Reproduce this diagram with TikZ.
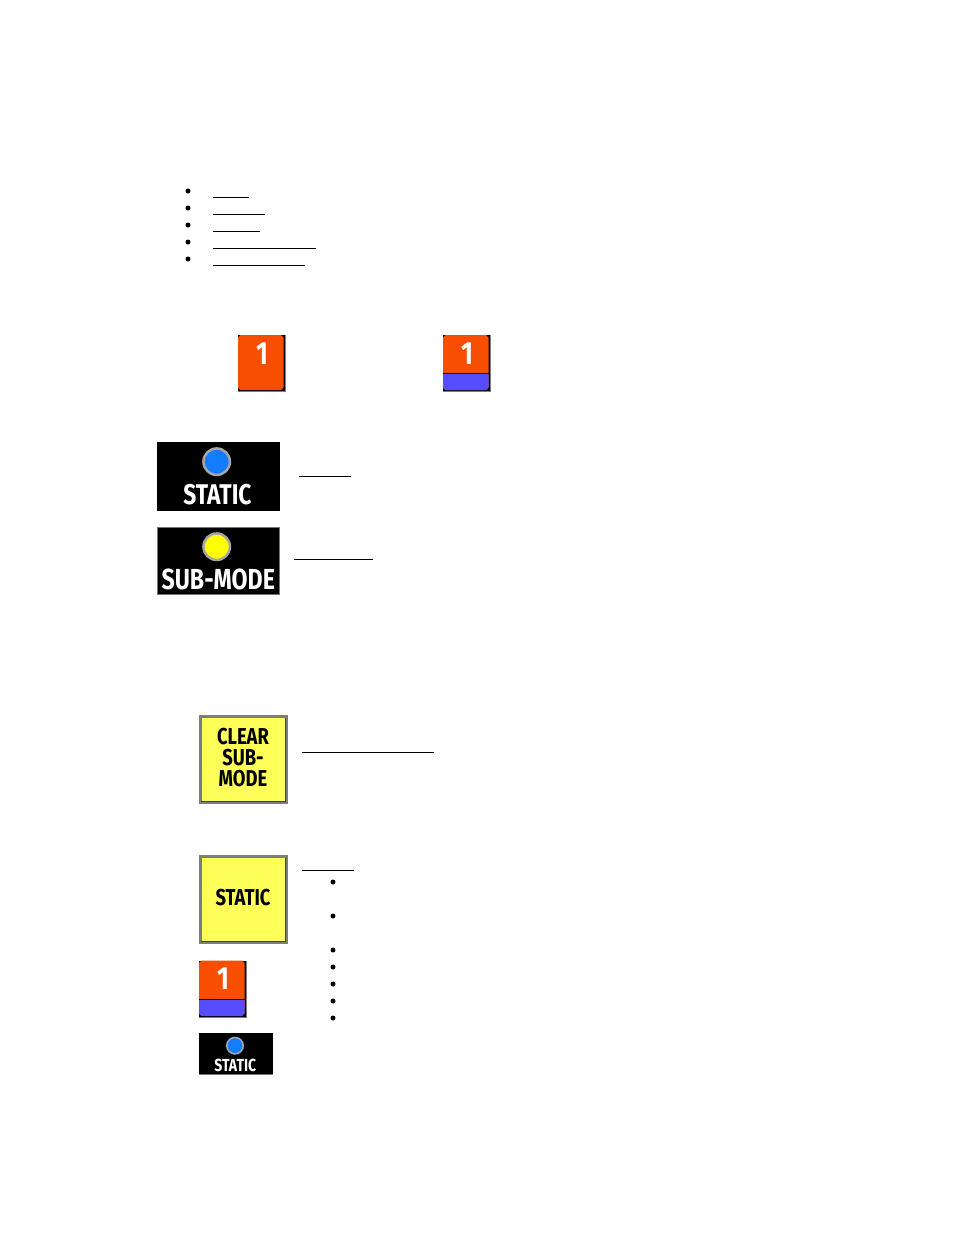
\documentclass[tikz,border=0pt]{standalone}
\usepackage{fontspec}
\newfontfamily\keyfont[FakeStretch=0.8]{Fira Sans}
\definecolor{keyorange}{RGB}{247,78,0}
\definecolor{keyblue}{RGB}{85,77,255}
\definecolor{keyyellow}{RGB}{255,255,90}
\definecolor{keyrim}{RGB}{125,125,125}
\definecolor{ledblue}{RGB}{20,125,255}
\definecolor{ledyellow}{RGB}{255,255,0}
\tikzset{
	rule/.style={line width=1pt,black},
	dot/.style={circle,fill=black,inner sep=0pt,minimum size=5pt},
	keytext/.style={inner sep=0pt,align=center,font=\keyfont\bfseries\fontsize{#1}{21.2}\selectfont},
	softkey/.style={draw=keyrim,fill=keyyellow,line width=2.4pt,inner sep=0pt,minimum size=86pt},
	panel/.style={fill=black,inner sep=0pt},
	led/.style={circle,draw=black!35,line width=2.5pt,inner sep=0pt,minimum size=#1}
}
% orange key, top left at (#2,#3), #4 = y where the blue strip starts
\newcommand{\numkey}[4]{
	\fill[black] (#2,#3) rectangle ++(47.7,56.7);
	\fill[keyorange] (#2+2.5,#3) -- ++(40.5,0) -- ++(2.5,2.5) -- ++(0,50) -- ++(-2.5,2.5) -- ++(-40.5,0) -- ++(-2.5,-2.5) -- ++(0,-50) -- cycle;
	\draw[keyrim,line width=.8pt] (#2+47.4,#3) -- ++(0,56.4) -- ++(-47.4,0);
	\node[keytext=32,text=white] (#1) at (#2+24,#3+18.5) {1};
	\ifdim #4pt>0pt
		\fill[keyblue] (#2,#3+#4) -- ++(45.5,0) -- ++(0,13.5) -- ++(-2.5,2.5) -- ++(-40.5,0) -- ++(-2.5,-2.5) -- cycle;
		\draw[black,line width=1.5pt] (#2,#3+#4-.5) -- ++(47,0);
	\fi
}
% dark inner edge on the right and the bottom of a yellow key
\newcommand{\keyshade}[1]{
	\draw[black!75,line width=.7pt] (#1.north east) ++(-2.2,2.2) |- ([shift={(2.2,-2.2)}]#1.south west);
}
\begin{document}
\begin{tikzpicture}[x=1pt,y=-1pt]
	\useasboundingbox[fill=white] (0,0) rectangle (954,1235);
	% first list
	\foreach \y/\xend [count=\i] in {191/249,208/265,225/260,242/316,259/305} {
		\node[dot] (top\i) at (188,\y) {};
		\coordinate (topa\i) at (213,\y+6.3);
		\coordinate (topb\i) at (\xend,\y+6.3);
		\draw[rule] (topa\i) -- (topb\i);
	}
	% orange keys
	\numkey{keya}{238}{335}{0}
	\numkey{keyb}{443}{335}{39}
	% black panels
	\fill[panel] (157,442) rectangle (279.5,511);
	\node[led=26.5pt,fill=ledblue] (ledstatic) at (216.7,461.7) {};
	\node[keytext=28.5,text=white] (txtstatic) at (217.5,495) {STATIC};
	\draw[rule] (299,476) -- (351,476);
	\fill[panel,draw=black!55,line width=.6pt] (157,527.3) rectangle (279.3,594.3);
	\node[led=26.5pt,fill=ledyellow] (ledsub) at (216.7,546.7) {};
	\node[keytext=29,text=white] (txtsub) at (218.3,579.3) {SUB-MODE};
	\draw[rule] (294,559) -- (373,559);
	% yellow keys
	\node[softkey] (clearkey) at (243.3,759.5) {};
	\keyshade{clearkey}
	\node[keytext=23,text=black] (cleartxt) at (243,757.6) {CLEAR\\SUB-\\MODE};
	\draw[rule] (302,752.3) -- (434,752.3);
	\node[softkey] (statickey) at (243.3,899.5) {};
	\keyshade{statickey}
	\node[keytext=23,text=black] (statictxt) at (243,897.7) {STATIC};
	\draw[rule] (302,870) -- (354,870);
	\foreach \y [count=\i] in {882,916,950,967,984,1001,1018}
		\node[dot] (low\i) at (333,\y) {};
	% small key and panel
	\numkey{keyc}{199}{960.5}{39.5}
	\fill[panel] (199,1033) rectangle (273,1074.3);
	\draw[black!55,line width=.8pt] (199,1074) -- (273,1074);
	\node[led=16.5pt,fill=ledblue,line width=1.5pt] (ledsmall) at (235,1045.7) {};
	\node[keytext=17.5,text=white] (txtsmall) at (235.3,1065.7) {STATIC};
\end{tikzpicture}
\end{document}
